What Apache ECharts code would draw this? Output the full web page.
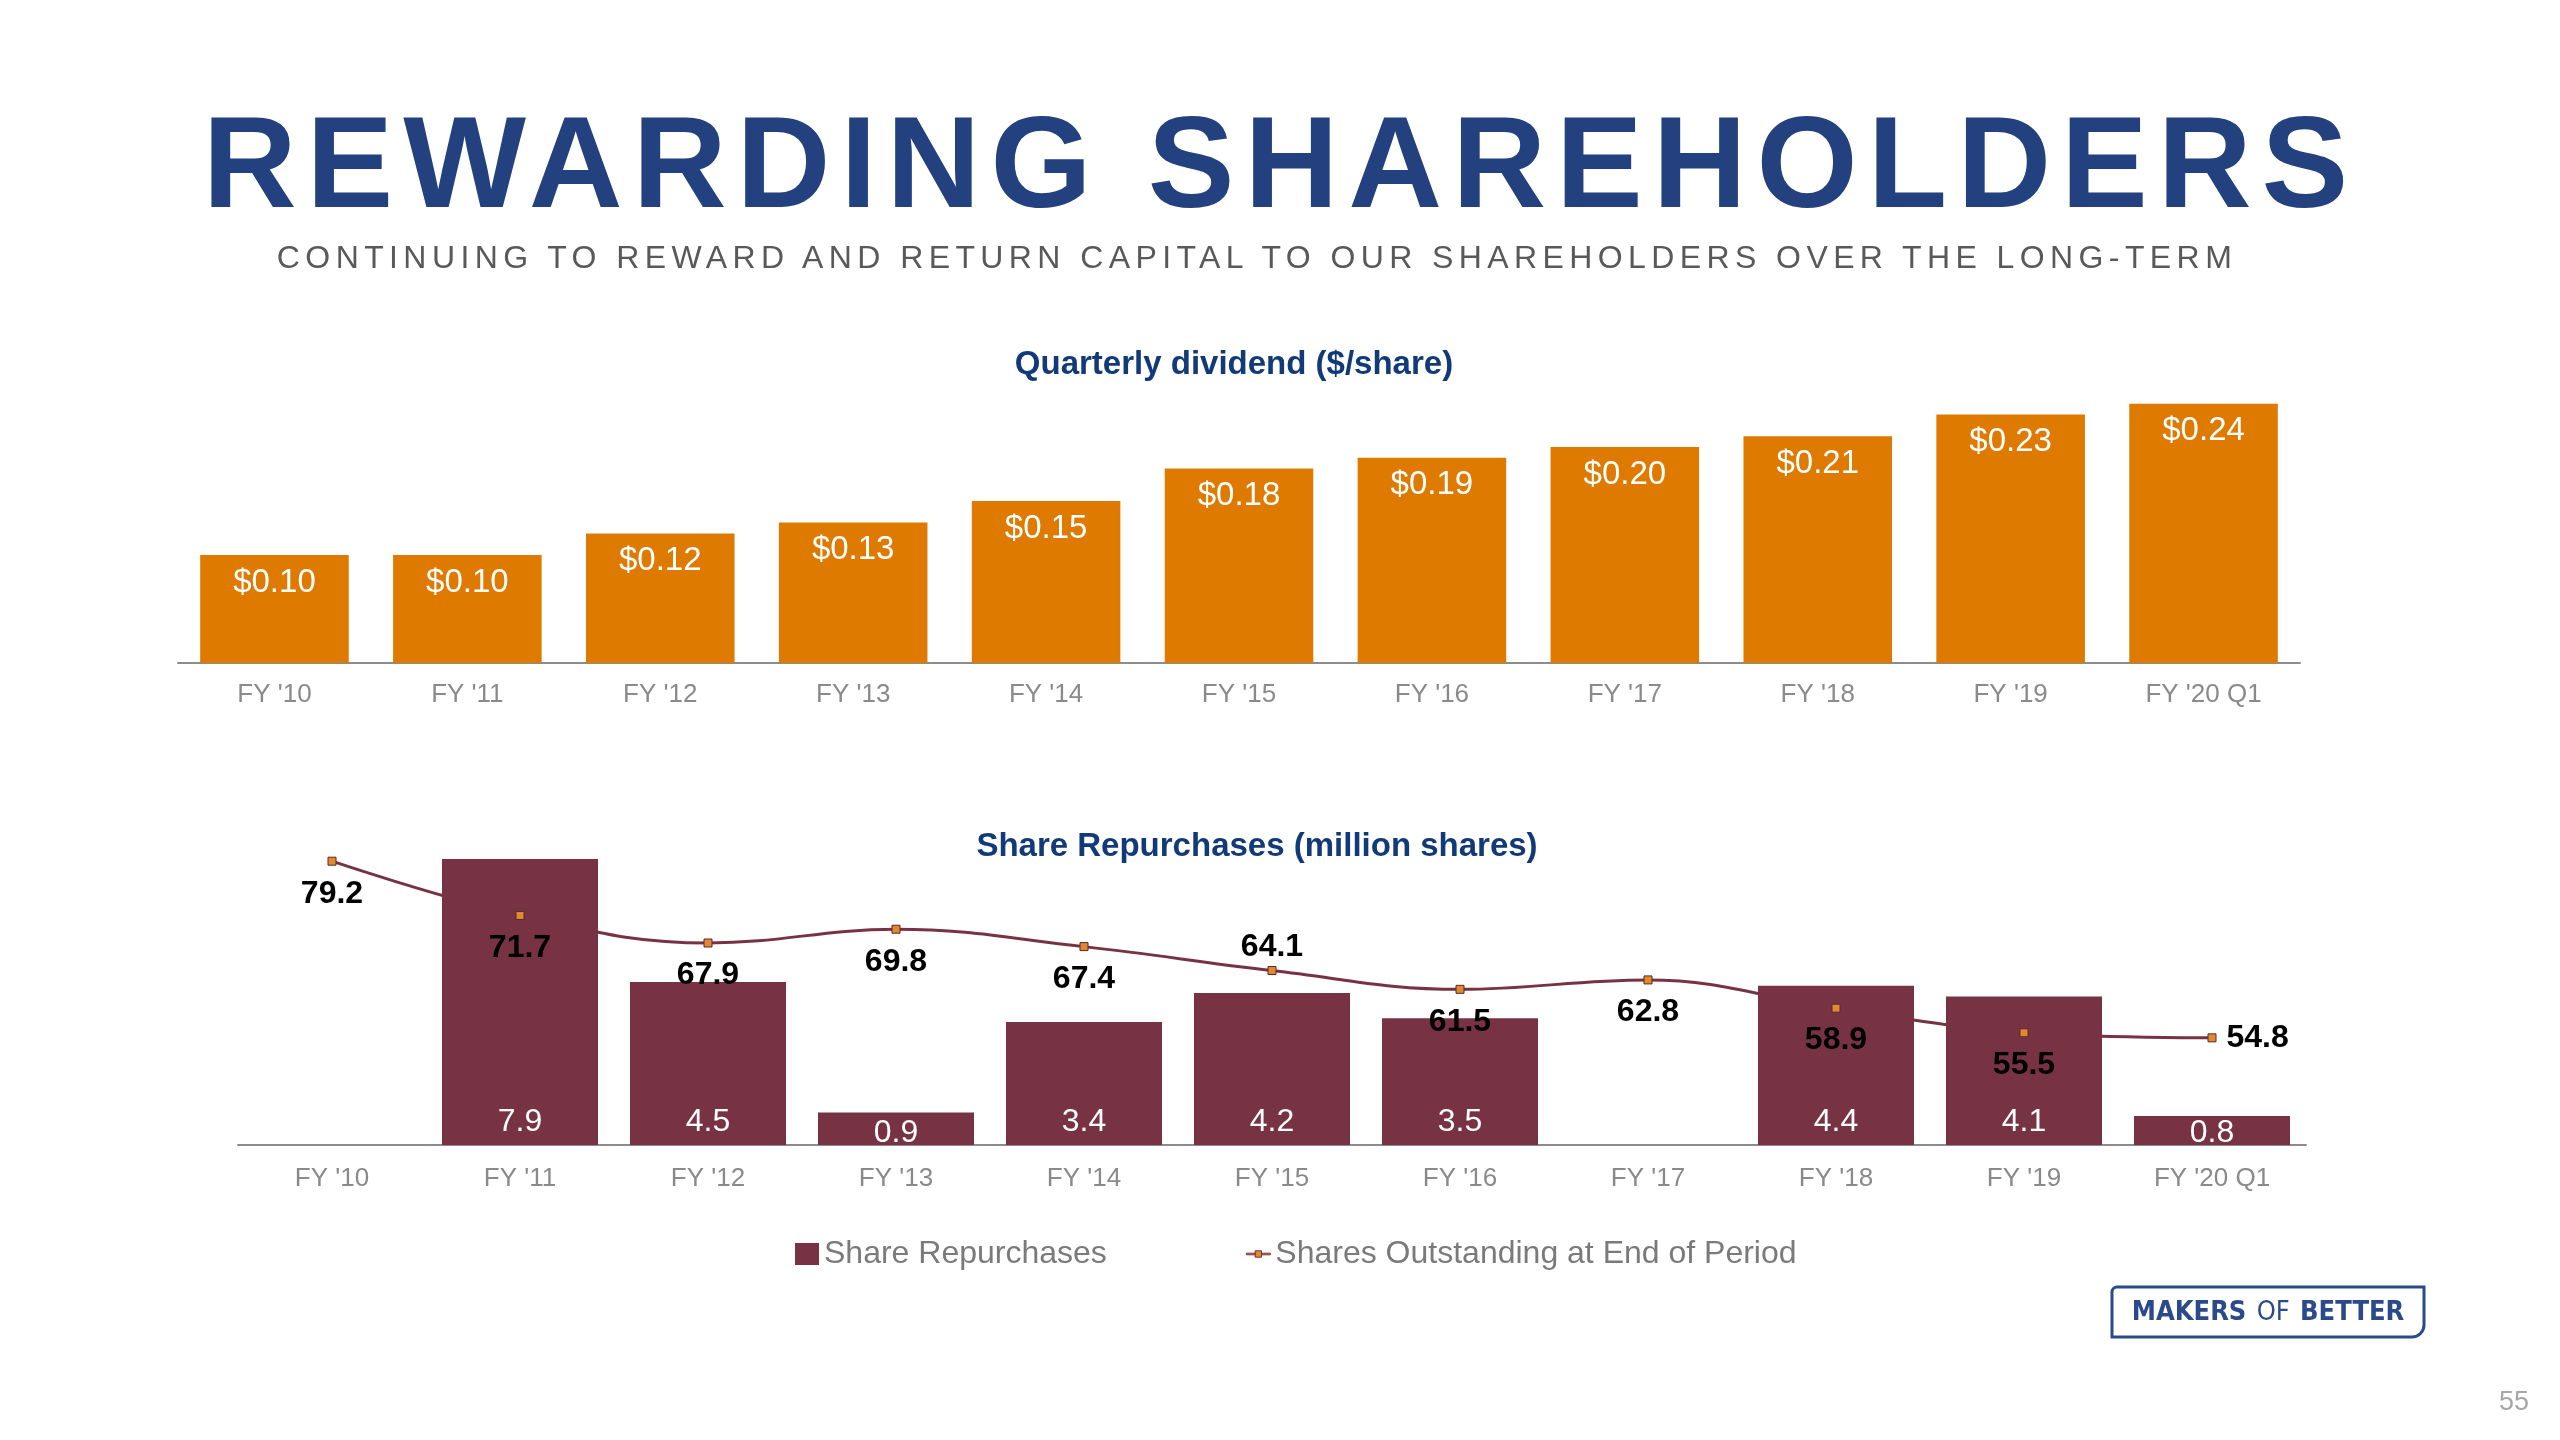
<!DOCTYPE html>
<html>
<head>
<meta charset="utf-8">
<script src="https://cdn.jsdelivr.net/npm/echarts@6/dist/echarts.min.js"></script>
<style>
  html, body { margin: 0; padding: 0; background: #ffffff; }
  body { width: 2560px; height: 1440px; overflow: hidden; position: relative; }
  #main { position: absolute; left: 0; top: 0; width: 2560px; height: 1440px; }
  #head { position: absolute; left: 0; top: 0; width: 2560px; height: 230px; letter-spacing: 10px; pointer-events: none; }
  #sub  { position: absolute; left: 0; top: 220px; width: 2560px; height: 80px; letter-spacing: 5.4px; pointer-events: none; }
</style>
</head>
<body>
<div id="main"></div>
<div id="head"></div>
<div id="sub"></div>
<script>
// ---------- data ----------
const categories = ["FY '10", "FY '11", "FY '12", "FY '13", "FY '14", "FY '15", "FY '16", "FY '17", "FY '18", "FY '19", "FY '20 Q1"];
const dividendPerShare = [0.10, 0.10, 0.12, 0.13, 0.15, 0.18, 0.19, 0.20, 0.21, 0.23, 0.24];
const shareRepurchases = [null, 7.9, 4.5, 0.9, 3.4, 4.2, 3.5, null, 4.4, 4.1, 0.8];
const sharesOutstanding = [79.2, 71.7, 67.9, 69.8, 67.4, 64.1, 61.5, 62.8, 58.9, 55.5, 54.8];
const seriesNames = ['Share Repurchases', 'Shares Outstanding at End of Period'];
const headline = 'REWARDING SHAREHOLDERS';
const subline = 'CONTINUING TO REWARD AND RETURN CAPITAL TO OUR SHAREHOLDERS OVER THE LONG-TERM';
const dividendTitle = 'Quarterly dividend ($/share)';
const repurchaseTitle = 'Share Repurchases (million shares)';
const logoWords = ['MAKERS', 'OF', 'BETTER'];
const pageNumber = '55';

// ---------- style ----------
const FONT = "'Liberation Sans', Arial, Helvetica, sans-serif";
const LOGO_FONT = "'Liberation Sans Narrow', 'DejaVu Sans Condensed', Roboto, sans-serif";
const ORANGE = '#DE7A00';
const MAROON = '#773344';
const NAVY = '#123A78';
const AXIS_GREY = '#8c8c8c';
const LABEL_GREY = '#8a8a8a';
const lineLabelPlace = { 5: 'top', 10: 'right' };

// ---------- headline (svg so CSS letter-spacing applies) ----------
const head = echarts.init(document.getElementById('head'), null, { renderer: 'svg' });
head.setOption({
  animation: false,
  graphic: [{
    type: 'text', x: 1280.5, y: 161.5, silent: true,
    style: { text: headline, fill: '#23407F', font: 'bold 130px ' + FONT, textAlign: 'center', textVerticalAlign: 'middle' }
  }]
});
const sub = echarts.init(document.getElementById('sub'), null, { renderer: 'svg' });
sub.setOption({
  animation: false,
  graphic: [{
    type: 'text', x: 1257, y: 36.5, silent: true,
    style: { text: subline, fill: '#595959', font: '32px ' + FONT, textAlign: 'center', textVerticalAlign: 'middle' }
  }]
});

// ---------- main chart ----------
const chart = echarts.init(document.getElementById('main'), null, { renderer: 'canvas' });

const markerData = sharesOutstanding.map((v, i) => {
  const pos = lineLabelPlace[i] || 'bottom';
  return { value: v, label: { position: pos, distance: pos === 'top' ? 3 : (pos === 'right' ? 10 : 12) } };
});

// very short bars carry their label lower (as in the source chart)
const repurchaseData = shareRepurchases.map(v => (v == null ? null :
  (v < 1 ? { value: v, label: { distance: -4 } } : v)));

const axisCommon = {
  type: 'category',
  data: categories,
  axisTick: { show: false },
  axisLine: { lineStyle: { color: AXIS_GREY, width: 2 } },
  axisLabel: { color: LABEL_GREY, fontSize: 26, fontFamily: FONT }
};

chart.setOption({
  animation: false,
  backgroundColor: '#ffffff',
  textStyle: { fontFamily: FONT },
  grid: [
    { left: 178, top: 393, width: 2122, height: 270 },
    { left: 238, top: 783, width: 2068, height: 362 }
  ],
  xAxis: [
    Object.assign({}, axisCommon, { gridIndex: 0, axisLabel: Object.assign({}, axisCommon.axisLabel, { margin: 19 }) }),
    Object.assign({}, axisCommon, { gridIndex: 1, axisLabel: Object.assign({}, axisCommon.axisLabel, { margin: 21 }) })
  ],
  yAxis: [
    { gridIndex: 0, type: 'value', min: 0, max: 0.25, show: false },
    { gridIndex: 1, type: 'value', min: 0, max: 10, show: false },
    { gridIndex: 1, type: 'value', min: 40, max: 90, show: false }
  ],
  legend: {
    left: 790, top: 1233,
    itemWidth: 24, itemHeight: 22, itemGap: 139,
    textStyle: { fontSize: 32, color: '#7a7a7a', fontFamily: FONT },
    data: [
      { name: seriesNames[0], icon: 'rect' },
      { name: seriesNames[1], icon: 'path://M0,3h11v2h-11z M11,0h8v8h-8z M19,3h11v2h-11z',
        itemStyle: { color: '#E08A2C', borderColor: MAROON, borderWidth: 1 } }
    ]
  },
  series: [
    {
      name: dividendTitle, type: 'bar', xAxisIndex: 0, yAxisIndex: 0,
      data: dividendPerShare, barCategoryGap: '23%',
      itemStyle: { color: ORANGE },
      label: { show: true, position: 'insideTop', distance: 11, color: '#ffffff', fontSize: 33, fontFamily: FONT,
        formatter: p => '$' + p.value.toFixed(2) }
    },
    {
      name: seriesNames[1], type: 'line', xAxisIndex: 1, yAxisIndex: 2,
      data: sharesOutstanding, smooth: 0.4, z: 1,
      showSymbol: false, symbol: 'rect',
      itemStyle: { color: MAROON },
      lineStyle: { color: MAROON, width: 3 }
    },
    {
      name: seriesNames[0], type: 'bar', xAxisIndex: 1, yAxisIndex: 1,
      data: repurchaseData, barCategoryGap: '17%', z: 2,
      itemStyle: { color: MAROON },
      label: { show: true, position: 'insideBottom', distance: 7, color: '#ffffff', fontSize: 32, fontFamily: FONT,
        formatter: p => p.value.toFixed(1) }
    },
    {
      name: seriesNames[1], type: 'line', xAxisIndex: 1, yAxisIndex: 2,
      data: markerData, z: 3,
      showSymbol: true, showAllSymbol: true, symbol: 'rect', symbolSize: 8,
      lineStyle: { width: 0, opacity: 0 },
      itemStyle: { color: '#E08A2C', borderColor: '#5a2633', borderWidth: 1 },
      label: { show: true, distance: 12, color: '#000000', fontWeight: 'bold', fontSize: 32, fontFamily: FONT,
        formatter: p => p.value.toFixed(1) }
    }
  ],
  graphic: [
    { type: 'text', x: 1234, y: 365, silent: true,
      style: { text: dividendTitle, fill: NAVY, font: 'bold 33px ' + FONT, textAlign: 'center', textVerticalAlign: 'middle' } },
    { type: 'text', x: 1257, y: 847, silent: true,
      style: { text: repurchaseTitle, fill: NAVY, font: 'bold 33px ' + FONT, textAlign: 'center', textVerticalAlign: 'middle' } },
    { type: 'rect', silent: true,
      shape: { x: 2112, y: 1287, width: 312, height: 50, r: [5, 0, 12, 0] },
      style: { fill: '#ffffff', stroke: '#2B4A8C', lineWidth: 3 } },
    { type: 'text', x: 2268, y: 1313, silent: true,
      style: {
        text: '{b|' + logoWords[0] + '} {l|' + logoWords[1] + '} {b|' + logoWords[2] + '}',
        textAlign: 'center', textVerticalAlign: 'middle', fill: '#2B4A8C',
        rich: {
          b: { fontFamily: LOGO_FONT, fontWeight: 'bold', fontSize: 27, fill: '#2B4A8C' },
          l: { fontFamily: LOGO_FONT, fontWeight: 'normal', fontSize: 27, fill: '#2B4A8C', padding: [0, 7] }
        }
      } },
    { type: 'text', x: 2514, y: 1403, silent: true,
      style: { text: pageNumber, fill: '#a6a6a6', font: '27px ' + FONT, textAlign: 'center', textVerticalAlign: 'middle' } }
  ]
});
</script>
</body>
</html>
